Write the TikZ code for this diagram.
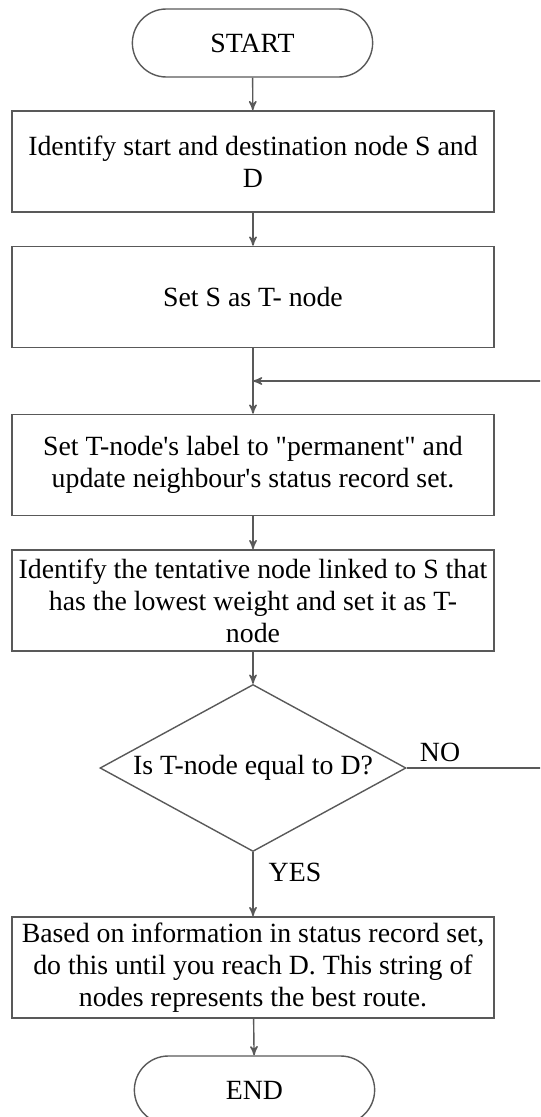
\documentclass[tikz,border=0pt]{standalone}
\usepackage{fontspec}
\setmainfont{Liberation Serif}
\usepackage{tikz}
\usetikzlibrary{shapes,arrows}
\definecolor{linegray}{RGB}{89,89,89}
\tikzset{
        ->,  % every connector is directed
        >=stealth', % small arrow heads
        x=0.5pt, y=-0.5pt, % one unit is one pixel of the sketch, y runs down
        every node/.style={font=\fontsize{13.9}{16}\selectfont, align=center},
        conn/.style={linegray, line width=0.7pt}, % the connectors
        term/.style={rounded rectangle, draw=linegray, line width=0.7pt, minimum width=126.8pt, minimum height=34pt},
        proc/.style={rectangle, draw=linegray, line width=0.8pt, minimum width=240.75pt, minimum height=50.5pt, inner sep=2pt},
        dec/.style={diamond, draw=linegray, line width=0.7pt, aspect=1.83, minimum width=153pt, minimum height=83.5pt, inner sep=0pt},
}
\begin{document}
\begin{tikzpicture}
\useasboundingbox (0,0) rectangle (540,1117);
\clip (0,0) rectangle (540,1117);

\node[term] (start) at (252.5,43) {START};
\node[proc] (ident) at (253,161.5) {Identify start and destination node S and\\ D};
\node[proc] (sets) at (253,297) {Set S as T- node};
\node[proc] (perm) at (253,465) {Set T-node\textquotesingle s label to \textquotedbl permanent\textquotedbl{} and\\ update neighbour\textquotesingle s status record set.};
\node[proc] (tent) at (253,600.5) {Identify the tentative node linked to S that\\ has the lowest weight and set it as T-\\ node};
\node[dec] (check) at (253,768) {Is T-node equal to D?};
\node[proc] (route) at (253,967.5) {Based on information in status record set,\\ do this until you reach D. This string of\\ nodes represents the best route.};
\node[term] (finish) at (254.5,1090) {END};

\node (no) at (440,752) {NO};
\node (yes) at (295,872) {YES};

\foreach \a/\b in {start/ident, ident/sets, sets/perm, perm/tent, tent/check, check/route, route/finish}
  \draw[conn] (\a) -- (\b);

% back to the T-node step
\coordinate (corner) at (548,768);
\coordinate (join) at (253,381);
\draw[conn] (check.east) -- (corner) |- (join);
\end{tikzpicture}
\end{document}
